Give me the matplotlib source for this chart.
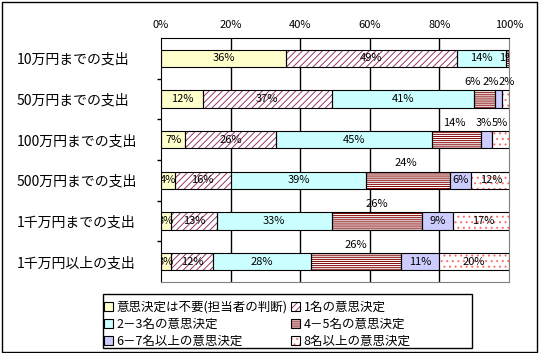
import numpy as np
import matplotlib
matplotlib.use("Agg")
import matplotlib.pyplot as plt
from matplotlib.patches import Patch, Rectangle
from matplotlib.legend_handler import HandlerTuple

plt.rcParams['font.family'] = ['Noto Sans CJK JP', 'DejaVu Sans']
plt.rcParams['hatch.linewidth'] = 0.7

# data
categories = ['10万円までの支出', '50万円までの支出', '100万円までの支出',
              '500万円までの支出', '1千万円までの支出', '1千万円以上の支出']
series = ['意思決定は不要(担当者の判断)', '1名の意思決定', '2－3名の意思決定',
          '4－5名の意思決定', '6－7名以上の意思決定', '8名以上の意思決定']
values = np.array([
    [36, 49, 14, 1, 0, 0],
    [12, 37, 41, 6, 2, 2],
    [7, 26, 45, 14, 3, 5],
    [4, 16, 39, 24, 6, 12],
    [3, 13, 33, 26, 9, 17],
    [3, 12, 28, 26, 11, 20],
])
xticks = [0, 20, 40, 60, 80, 100]

# styles: face, hatch, hatch colour
faces = ['#ffffcc', 'white', '#ccffff', 'white', '#ccccff', 'white']
hatches = [None, '/////', None, '--------', None, '...']
hcols = ['black', '#993366', 'black', '#800000', 'black', '#ff6a6a']

# labels drawn above the bar (row, series) -> x offset in px
above = {(1, 3): -12, (1, 4): -8, (1, 5): 1,
         (2, 3): -2, (2, 4): -3, (2, 5): 0,
         (3, 3): -2, (4, 3): 0, (5, 3): 0}

W, H = 543, 353
fig = plt.figure(figsize=(W / 100, H / 100), dpi=100)
ax = fig.add_axes([161 / W, 1 - 282 / H, 348 / W, 244 / H])

y = np.arange(len(categories))
bh = 0.42
left = np.zeros(len(categories))
for j in range(len(series)):
    v = values[:, j]
    ax.barh(y, v, bh, left=left, color=faces[j], edgecolor='none', zorder=2)
    if hatches[j]:
        ax.barh(y, v, bh, left=left, color='none', edgecolor=hcols[j],
                hatch=hatches[j], linewidth=0, zorder=3)
    ax.barh(y, v, bh, left=left, fill=False, edgecolor='black', linewidth=0.8, zorder=4)
    for i in range(len(categories)):
        if v[i] <= 0:
            continue
        cx = left[i] + v[i] / 2
        if (i, j) in above:
            ax.annotate(f'{v[i]}%', (cx, y[i] - bh / 2), xytext=(above[(i, j)] * 0.72, 6),
                        textcoords='offset points', ha='center', va='center',
                        fontsize=8, zorder=6)
        else:
            ax.text(cx, y[i], f'{v[i]}%', ha='center', va='center', fontsize=8,
                    zorder=6, clip_on=True)
    left = left + v

ax.set_xlim(0, 100)
ax.set_ylim(len(categories) - 0.5, -0.5)
ax.set_xticks(xticks)
ax.set_xticklabels([f'{t}%' for t in xticks], fontsize=8)
ax.xaxis.tick_top()
ax.tick_params(axis='x', length=0, pad=6)
for t in xticks[1:-1]:
    ax.axvline(t, color='black', linewidth=1, zorder=1)

ax.set_yticks(y)
ax.set_yticklabels(categories, fontsize=10)
ax.set_yticks(np.arange(0.5, len(categories) - 0.5), minor=True)
ax.tick_params(axis='y', which='major', length=0, pad=(161 - 17) * 0.72)
ax.tick_params(axis='y', which='minor', length=3, width=1)
for lab in ax.get_yticklabels():
    lab.set_horizontalalignment('left')

ax.spines['top'].set_color('black')
ax.spines['left'].set_color('black')
ax.spines['right'].set_color('#808080')
ax.spines['bottom'].set_color('#808080')

# legend
handles = []
for j in range(len(series)):
    base = Patch(facecolor=faces[j], edgecolor='black', linewidth=0.8)
    if hatches[j]:
        hp = Patch(facecolor='white', edgecolor=hcols[j], hatch=hatches[j], linewidth=0)
        edge = Patch(fill=False, edgecolor='black', linewidth=0.8)
        handles.append((hp, edge))
    else:
        handles.append(base)
order = [0, 2, 4, 1, 3, 5]
leg = fig.legend([handles[k] for k in order], [series[k] for k in order],
                 loc='upper left', bbox_to_anchor=(104 / W, 1 - 301 / H),
                 ncol=2, fontsize=9, frameon=False,
                 handlelength=0.7, handleheight=0.7, handletextpad=0.3,
                 columnspacing=0.3, labelspacing=0.3, borderpad=0,
                 borderaxespad=0, handler_map={tuple: HandlerTuple(ndivide=1)})

# legend box and outer frame
fig.patches.append(Rectangle((103 / W, 1 - 348 / H), 369 / W, 54 / H, transform=fig.transFigure,
                             fill=False, edgecolor='black', linewidth=1))
fig.patches.append(Rectangle((2 / W, 1 / H), 535 / W, 350 / H, transform=fig.transFigure,
                             fill=False, edgecolor='black', linewidth=1))

fig.savefig('out.png', dpi=100)
